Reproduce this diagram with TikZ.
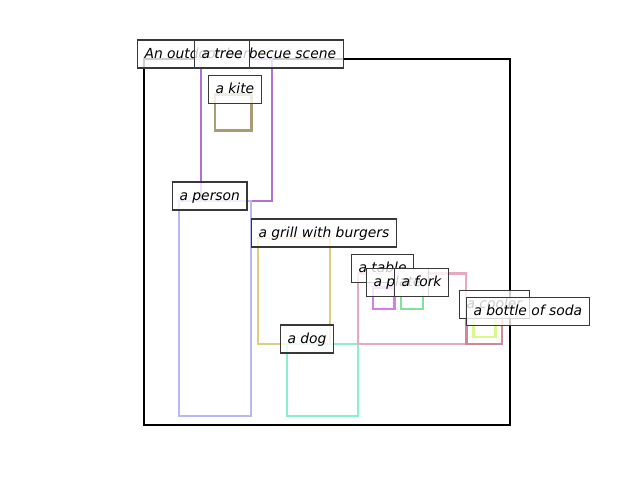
\documentclass[tikz,border=0pt]{standalone}
\usepackage{fontspec}
\setmainfont{DejaVu Sans}
\definecolor{ctree}{HTML}{B070D8}
\definecolor{ckite}{HTML}{A89C72}
\definecolor{cperson}{HTML}{B8B8F4}
\definecolor{cgrill}{HTML}{E2CC84}
\definecolor{cdog}{HTML}{88F0CC}
\definecolor{ctable}{HTML}{E8A8C0}
\definecolor{cplate}{HTML}{D080E8}
\definecolor{cfork}{HTML}{80E498}
\definecolor{ccooler}{HTML}{D08898}
\definecolor{cbottle}{HTML}{D8F888}
\definecolor{cedge}{HTML}{383838}
\tikzset{
  objbox/.style={line width=1.9pt},
  lbl/.style={draw=cedge, line width=0.8pt, fill=white, fill opacity=0.8, text opacity=1,
    inner xsep=5.25pt, inner ysep=5.25pt, text height=8.5pt, text depth=2pt,
    anchor=south west, font=\fontsize{10.4}{12}\selectfont\itshape}
}
\begin{document}
\begin{tikzpicture}[x=0.75pt,y=-0.75pt]
\useasboundingbox (0,0) rectangle (640,480);
% frame
\draw[line width=1.7pt, black] (144,59) rectangle (510,425);
% object boxes
\draw[objbox, ctree] (201,59) rectangle (272,201);
\draw[objbox, ckite] (215,94.5) rectangle (251.5,130.5);
\draw[objbox, cperson] (179,201) rectangle (251,416);
\draw[objbox, cgrill] (258,238) rectangle (330,344);
\draw[objbox, cdog] (287,344) rectangle (358,416);
\draw[objbox, ctable] (358,273.5) rectangle (466,344);
\draw[objbox, cplate] (373,287.5) rectangle (394.5,309);
\draw[objbox, cfork] (401,287.5) rectangle (423,309);
\draw[objbox, ccooler] (466.5,309.5) rectangle (502,344);
\draw[objbox, cbottle] (473.5,316.5) rectangle (495.5,337);
% labels
\node[lbl] (title) at (137,68.5) {An outdoor barbecue scene};
\node[lbl] (tree) at (194,68.5) {a tree};
\node[lbl] (kite) at (208,104) {a kite};
\node[lbl] (person) at (172,210.5) {a person};
\node[lbl] (grill) at (251,247.5) {a grill with burgers};
\node[lbl] (dog) at (280,353.5) {a dog};
\node[lbl] (table) at (351,283) {a table};
\node[lbl] (plate) at (366,297) {a plate};
\node[lbl] (fork) at (394,297) {a fork};
\node[lbl] (cooler) at (459,319) {a cooler};
\node[lbl] (bottle) at (466,326) {a bottle of soda};
\end{tikzpicture}
\end{document}
